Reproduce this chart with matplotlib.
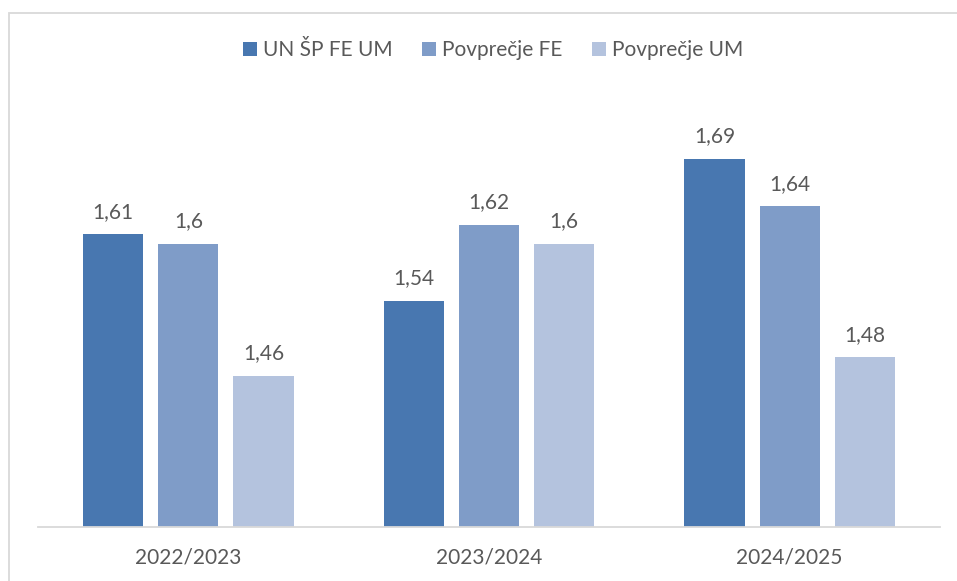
import numpy as np
import matplotlib.pyplot as plt
import matplotlib.patches as patches

# --- Data ---
categories = ['2022/2023', '2023/2024', '2024/2025']
series_names = ['UN ŠP FE UM', 'Povprečje FE', 'Povprečje UM']
un_sp_fe_um = [1.61, 1.54, 1.69]
povp_fe = [1.60, 1.62, 1.64]
povp_um = [1.46, 1.60, 1.48]

# --- Style ---
COLORS = ['#4877B0', '#7F9CC8', '#B4C3DE']
TXT = '#595959'
FONT = 'Lato'
FS = 15

W, H = 957, 581
fig = plt.figure(figsize=(W / 100, H / 100), dpi=100)
fig.patch.set_facecolor('white')

# chart frame (cropped at right/bottom in the reference)
fig.add_artist(patches.Rectangle((8.5 / W, -0.05), 1.1, 1 - 13 / H + 0.05,
                                 transform=fig.transFigure, fill=False,
                                 edgecolor='#D9D9D9', linewidth=1.3))

ax = fig.add_axes([38 / W, (H - 527) / H, (940 - 38) / W, (527 - 55.2) / H])
ax.set_xlim(-0.5, 2.5)
ax.set_ylim(1.3, 1.8)

x = np.arange(len(categories))
width = 0.2
step = 0.25
for i, (name, vals) in enumerate(zip(series_names, [un_sp_fe_um, povp_fe, povp_um])):
    xs = x + (i - 1) * step
    ax.bar(xs, np.array(vals) - 1.3, width, bottom=1.3, color=COLORS[i], label=name)
    for xx, v in zip(xs, vals):
        lbl = f'{v:g}'.replace('.', ',')
        ax.annotate(lbl, (xx, v), xytext=(0, 9), textcoords='offset points',
                    ha='center', va='bottom', fontsize=FS, color=TXT, family=FONT)

for s in ['top', 'right', 'left']:
    ax.spines[s].set_visible(False)
ax.spines['bottom'].set_color('#D9D9D9')
ax.spines['bottom'].set_linewidth(1.3)
ax.set_yticks([])
ax.set_xticks(x)
ax.set_xticklabels(categories, fontsize=FS, color=TXT, family=FONT)
ax.tick_params(axis='x', length=0, pad=15)

leg = fig.legend(loc='center', bbox_to_anchor=(493 / W, 1 - 50 / H), ncol=3, frameon=False,
                 prop={'family': FONT, 'size': FS}, handlelength=0.67, handleheight=0.67,
                 handletextpad=0.3, columnspacing=1.4)
for t in leg.get_texts():
    t.set_color(TXT)

fig.savefig('out.png', dpi=100, facecolor='white')
